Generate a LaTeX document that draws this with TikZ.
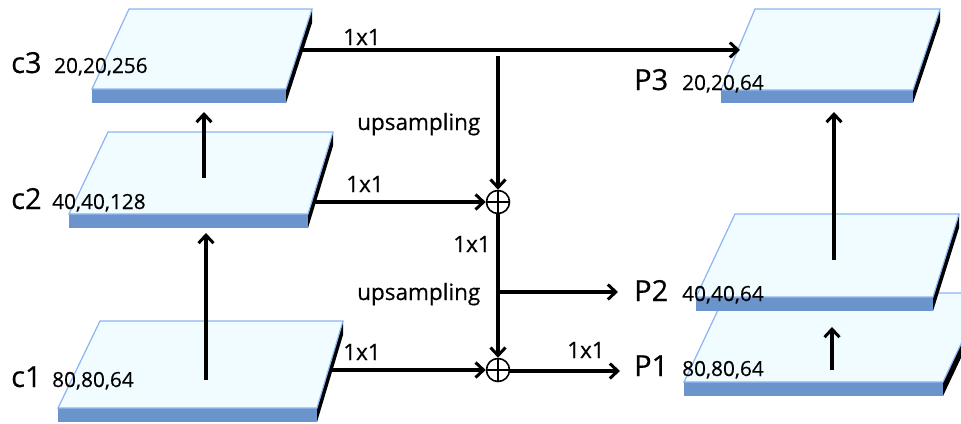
\documentclass[tikz,border=0pt]{standalone}
\usepackage{fontspec}
\setmainfont{Open Sans}[FakeBold=0.4]
\usetikzlibrary{arrows.meta}
\definecolor{topc}{RGB}{240,252,255}
\definecolor{edgec}{RGB}{140,180,240}
\definecolor{bandc}{RGB}{108,148,204}
\tikzset{
  topface/.style={fill=topc, draw=edgec, line width=1.2pt},
  bandface/.style={fill=bandc, draw=none},
  sideface/.style={fill=black, draw=none},
  arr/.style={line width=3.2pt, -{Straight Barb[length=8pt,width=15pt,line width=3pt]}},
  big/.style={font=\fontsize{29}{31}\selectfont, inner sep=0pt, anchor=base west},
  small/.style={font=\fontsize{20.8}{22}\selectfont, inner sep=0pt, anchor=base west},
  lbl/.style={font=\fontsize{22.5}{24}\selectfont, inner sep=0pt, anchor=base west},
  plus/.style={circle, draw, line width=1.6pt, minimum size=23pt, inner sep=0pt, fill=white,
    path picture={\draw[line width=1.6pt] (path picture bounding box.north) -- (path picture bounding box.south)
      (path picture bounding box.west) -- (path picture bounding box.east);}},
}
% #1 TLx #2 TRx #3 topy #4 BLx #5 BRx #6 boty #7 thickness
\newcommand\mkslab[7]{%
  \fill[bandface] (#4,#6) -- (#5,#6) -- (#5,#6+#7) -- (#4,#6+#7) -- cycle;
  \fill[sideface] (#2,#3) -- (#5,#6) -- (#5,#6+#7) -- (#2,#3+#7) -- cycle;
  \draw[topface] (#1,#3) -- (#2,#3) -- (#5,#6) -- (#4,#6) -- cycle;
}
\begin{document}
\begin{tikzpicture}[x=1pt,y=-1pt]
\useasboundingbox (0,0) rectangle (961,423);
\clip (0,0) rectangle (961,423);
% slabs
\mkslab{129}{312}{9}{92}{286}{89}{14}
\mkslab{108}{333}{132}{69}{308}{214}{14}
\mkslab{100}{343}{321}{58}{317}{408}{14}
\mkslab{755}{940}{9}{721}{913}{90}{13}
\mkslab{726}{985}{293}{684}{943}{382}{14}
\mkslab{735}{959}{214}{696}{933}{297}{14}
% labels
\node[big] (lc3) at (11,73) {c3};
\node[small] (sc3) at (54,73) {20,20,256};
\node[big] (lc2) at (11,209) {c2};
\node[small] (sc2) at (52,209) {40,40,128};
\node[big] (lc1) at (11,387) {c1};
\node[small] (sc1) at (52,387) {80,80,64};
\node[big] (lp3) at (634,90) {P3};
\node[small] (sp3) at (682,90) {20,20,64};
\node[big] (lp2) at (634,301) {P2};
\node[small] (sp2) at (682,301) {40,40,64};
\node[big] (lp1) at (634,376) {P1};
\node[small] (sp1) at (682,376) {80,80,64};
\node[lbl] (t1) at (343,45) {1x1};
\node[lbl] (t2) at (346,192) {1x1};
\node[lbl] (t3) at (453,252) {1x1};
\node[lbl] (t4) at (343,360) {1x1};
\node[lbl] (t5) at (567,358) {1x1};
\node[lbl] (u1) at (357,130) {upsampling};
\node[lbl] (u2) at (357,300) {upsampling};
% plus nodes
\node[plus] (A) at (498,202) {};
\node[plus] (B) at (498,370) {};
% coordinates
\coordinate (c3e) at (300,50);
\coordinate (p3w) at (740,50);
\coordinate (down) at (498,56);
\coordinate (c2e) at (313,202);
\coordinate (c1e) at (330,370);
\coordinate (br) at (498,292);
\coordinate (p2in) at (618,292);
\coordinate (p1in) at (620,371);
\coordinate (c2up) at (204,178);
\coordinate (c3dn) at (204,112);
\coordinate (c1up) at (206,380);
\coordinate (c2dn) at (206,233);
\coordinate (p2up) at (834,260);
\coordinate (p3dn) at (834,112);
\coordinate (p1up) at (832,370);
\coordinate (p2dn) at (832,327);
% connectors
\draw[arr] (c3e) -- (p3w);
\draw[arr] (down) -- (A.north);
\draw[arr] (c2e) -- (A.west);
\draw[arr] (A.south) -- (B.north);
\draw[arr] (br) -- (p2in);
\draw[arr] (c1e) -- (B.west);
\draw[arr] (B.east |- p1in) -- (p1in);
\draw[arr] (c2up) -- (c3dn);
\draw[arr] (c1up) -- (c2dn);
\draw[arr] (p2up) -- (p3dn);
\draw[arr] (p1up) -- (p2dn);
\end{tikzpicture}
\end{document}
